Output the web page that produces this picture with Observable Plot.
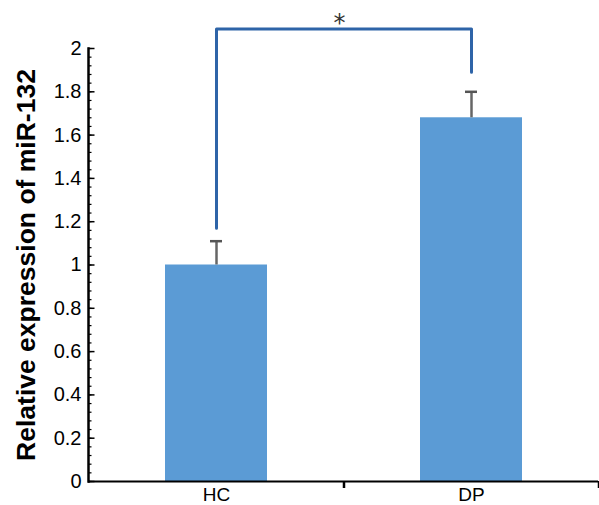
<!DOCTYPE html>
<html>
<head>
<meta charset="utf-8">
<script src="https://cdn.jsdelivr.net/npm/d3@7"></script>
<script src="https://cdn.jsdelivr.net/npm/@observablehq/plot@0.6"></script>
<style>
  html, body { margin: 0; padding: 0; background: #fff; }
  svg { font-family: "Liberation Sans", Arial, sans-serif; }
  g[aria-label="y-axis tick label"], g[aria-label="y-axis tick label"] text { font-size: 20px !important; }
  g[aria-label="x-axis tick label"], g[aria-label="x-axis tick label"] text { font-size: 19px !important; }
</style>
</head>
<body>
<div id="chart"></div>
<script>
const groups = ["HC", "DP"];
const means = [1.0, 1.68];
const upper = [1.11, 1.80];
const yTicks = [0, 0.2, 0.4, 0.6, 0.8, 1, 1.2, 1.4, 1.6, 1.8, 2];
const yMinor = d3.range(0, 51).map(i => +(i * 0.04).toFixed(2));
const bracket = [
  {g: "HC", y: 1.17},
  {g: "HC", y: 2.09},
  {g: "DP", y: 2.09},
  {g: "DP", y: 1.89}
];
const sigLabel = "*";
const sigY = 2.115;
const yLabel = "Relative expression of miR-132";

const data = groups.map((g, i) => ({g, mean: means[i], upper: upper[i]}));

const chart = Plot.plot({
  width: 599,
  height: 505,
  marginLeft: 88,
  marginRight: 1,
  marginTop: 48,
  marginBottom: 24,
  style: {fontFamily: "Liberation Sans, Arial, sans-serif", fontSize: "19px", color: "#000", background: "#fff"},
  x: {domain: groups, paddingInner: 0.6, paddingOuter: 0.3, label: null},
  y: {domain: [0, 2], label: null},
  marks: [
    Plot.barY(data, {x: "g", y: "mean", fill: "#5b9bd5"}),
    Plot.ruleX(data, {x: "g", y1: "mean", y2: "upper", stroke: "#666", strokeWidth: 2.5}),
    Plot.tickY(data, {x: "g", y: "upper", stroke: "#555", strokeWidth: 2.5, insetLeft: 45, insetRight: 45}),
    Plot.line(bracket, {x: "g", y: "y", stroke: "#2e64a8", strokeWidth: 3}),
    Plot.text([sigLabel], {text: d => d, y: sigY, frameAnchor: "middle", fontSize: 24, fill: "#333", dx: -4, fontFamily: "DejaVu Sans"}),
    Plot.axisY({ticks: yMinor, tickSize: -3.5, text: null, strokeWidth: 1.2}),
    Plot.axisY({ticks: yTicks, tickSize: -6.5, text: null, strokeWidth: 1.5}),
    Plot.axisY({ticks: yTicks, tickSize: 0, tickPadding: 7, tickFormat: d => String(d)}),
    Plot.axisX({tickSize: 0, tickPadding: 6}),
    Plot.ruleX(groups, {x: d => d, y1: 0, y2: 0, dx: 127.5, insetBottom: -7, stroke: "#000", strokeWidth: 2.5}),
    Plot.ruleY([0], {stroke: "#000", strokeWidth: 2}),
    Plot.frame({anchor: "left", stroke: "#000", strokeWidth: 2.5}),
    Plot.text([yLabel], {text: d => d, frameAnchor: "left", textAnchor: "middle", rotate: -90, dx: -62, fontSize: 26.5, fontWeight: "bold", fill: "#000"})
  ]
});
document.getElementById("chart").appendChild(chart);
</script>
</body>
</html>
